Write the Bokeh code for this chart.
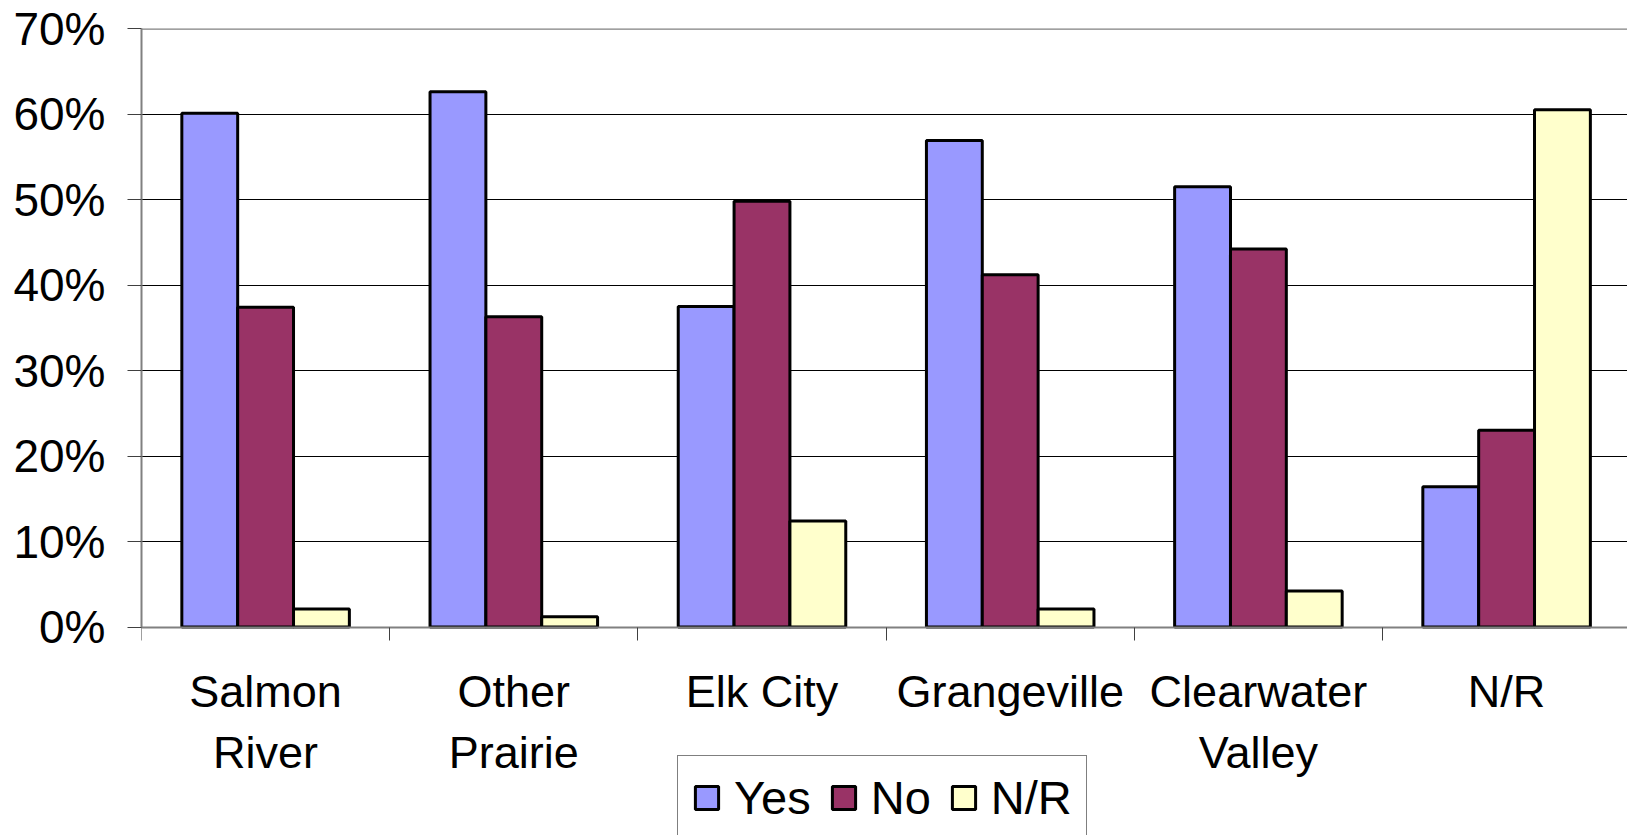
from bokeh.plotting import figure
from bokeh.models import (ColumnDataSource, Range1d, FixedTicker, Span, Legend, LegendItem)
from bokeh.transform import dodge
from bokeh.embed import file_html
from bokeh.resources import INLINE

# ---- data ----
categories = ["Salmon River", "Other Prairie", "Elk City", "Grangeville", "Clearwater Valley", "N/R"]
category_labels = ["Salmon\nRiver", "Other\nPrairie", "Elk City", "Grangeville", "Clearwater\nValley", "N/R"]
series_names = ["Yes", "No", "N/R"]
yes_values = [60.1, 62.6, 37.5, 56.9, 51.5, 16.4]
no_values = [37.4, 36.3, 49.8, 41.2, 44.2, 23.0]
nr_values = [2.1, 1.2, 12.4, 2.1, 4.2, 60.5]
y_ticks = [0, 10, 20, 30, 40, 50, 60, 70]
y_tick_labels = ["0%", "10%", "20%", "30%", "40%", "50%", "60%", "70%"]

colors = ["#9999FF", "#993366", "#FFFFCC"]
FONT = "Liberation Sans"

x_centers = [i + 0.5 for i in range(len(categories))]
source = ColumnDataSource(dict(x=x_centers, cat=categories, yes=yes_values, no=no_values, nr=nr_values))

W, H = 1627, 835
LEFT, TOP = 141, 28
PX_PER_UNIT = 8.55      # pixels per 1 % on the y axis
CAT_PX = 248.2          # pixels per category
y_start = 70 - (H - TOP) / PX_PER_UNIT

p = figure(width=W, height=H, output_backend="svg", toolbar_location=None,
           x_range=Range1d(0, (W - LEFT) / CAT_PX), y_range=Range1d(y_start, 70),
           min_border_left=LEFT, min_border_right=0, min_border_top=TOP, min_border_bottom=0)
p.outline_line_color = None
p.background_fill_color = "white"
p.border_fill_color = "white"

bw = 0.225
renderers = []
for field, off, col in zip(["yes", "no", "nr"], [-bw, 0, bw], colors):
    r = p.vbar(x=dodge("x", off, range=p.x_range), top=field, width=bw, bottom=0, source=source,
               fill_color=col, line_color="black", line_width=3)
    renderers.append(r)

# grid
p.xgrid.grid_line_color = None
p.ygrid.grid_line_color = "#000000"
p.ygrid.grid_line_width = 1
p.ygrid.ticker = FixedTicker(ticks=y_ticks)
p.add_layout(Span(location=70, dimension="width", line_color="#808080", line_width=2.5))

# y axis
ya = p.yaxis[0]
ya.ticker = FixedTicker(ticks=y_ticks)
ya.bounds = (0, 70)
ya.major_label_overrides = {t: l for t, l in zip(y_ticks, y_tick_labels)}
ya.axis_line_color = "#808080"
ya.axis_line_width = 2
ya.major_tick_out = 14
ya.major_tick_in = 0
ya.major_tick_line_color = "#404040"
ya.minor_tick_line_color = None
ya.major_label_standoff = 22
ya.major_label_text_font = FONT
ya.major_label_text_font_size = "46px"
ya.major_label_text_color = "black"

# x axis (sits at y = 0 inside the frame)
xa = p.xaxis[0]
xa.fixed_location = 0
xa.ticker = FixedTicker(ticks=x_centers, minor_ticks=list(range(len(categories) + 1)))
xa.major_label_overrides = {x: l for x, l in zip(x_centers, category_labels)}
xa.axis_line_color = "#808080"
xa.axis_line_width = 2
xa.major_tick_line_color = None
xa.major_tick_out = 0
xa.major_tick_in = 0
xa.minor_tick_out = 13
xa.minor_tick_in = 0
xa.minor_tick_line_color = "#404040"
xa.major_label_standoff = 26
xa.major_label_text_font = FONT
xa.major_label_text_font_size = "45px"
xa.major_label_text_color = "black"
xa.major_label_orientation = "horizontal"

legend = Legend(items=[LegendItem(label=n, renderers=[r]) for n, r in zip(series_names, renderers)],
                orientation="horizontal", location=(536, -5),
                glyph_width=29, glyph_height=29, label_standoff=13, spacing=18, padding=14,
                label_text_font=FONT, label_text_font_size="47px", label_text_color="black",
                border_line_color="black", border_line_width=1, background_fill_color="white",
                background_fill_alpha=1.0)
p.add_layout(legend, "center")

open("out.html", "w").write(file_html(p, INLINE))
